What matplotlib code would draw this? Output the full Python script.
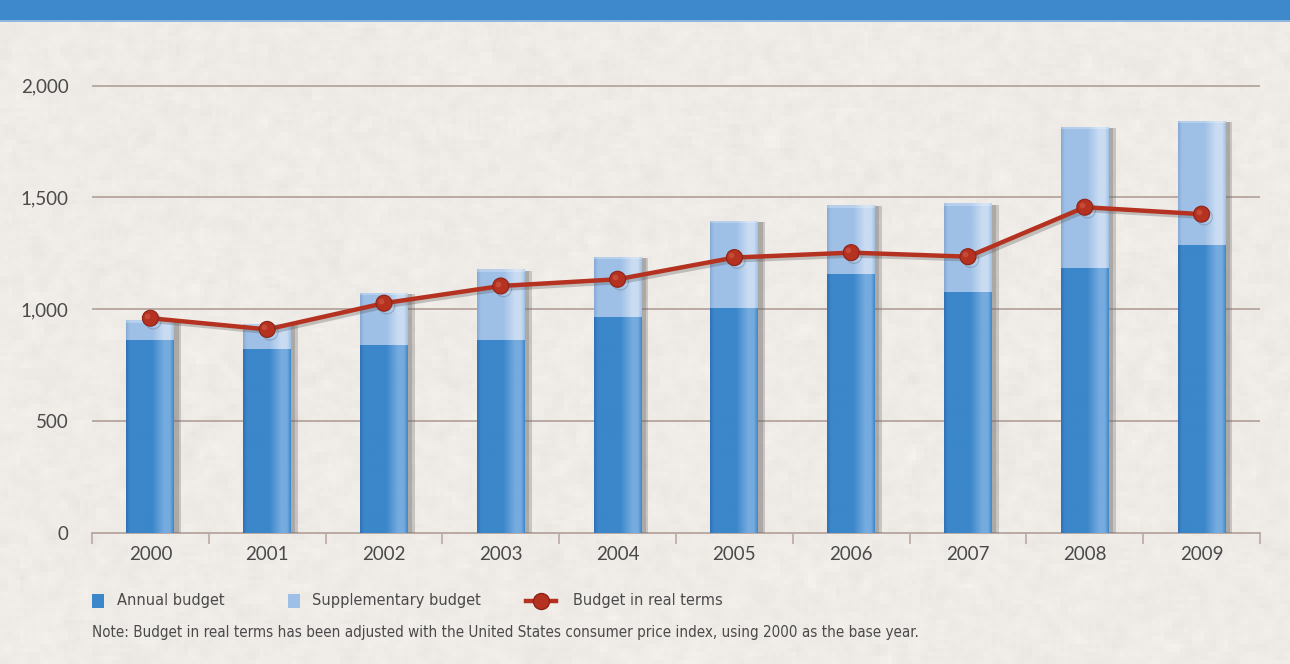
import numpy as np
import matplotlib
matplotlib.use("Agg")
import matplotlib.pyplot as plt
from matplotlib import patheffects as pe
from matplotlib.colors import LinearSegmentedColormap
from matplotlib.patches import Rectangle
from matplotlib.lines import Line2D

# ---- data -------------------------------------------------------------
years = ["2000", "2001", "2002", "2003", "2004",
         "2005", "2006", "2007", "2008", "2009"]
annual_budget = [863, 822, 839, 863, 967, 1004, 1158, 1079, 1183, 1287]
supplementary_budget = [89, 112, 235, 316, 268, 392, 308, 395, 633, 556]
real_terms = [960, 910, 1027, 1104, 1134, 1231, 1253, 1235, 1456, 1425]

y_ticks = [0, 500, 1000, 1500, 2000]
y_tick_labels = ["0", "500", "1,000", "1,500", "2,000"]

legend_labels = ["Annual budget", "Supplementary budget", "Budget in real terms"]
note_text = ("Note: Budget in real terms has been adjusted with the United States "
             "consumer price index, using 2000 as the base year.")

# ---- style ------------------------------------------------------------
W, H = 1290, 664
BG = "#efece8"
DARK_BLUE = "#3b87ca"
LIGHT_BLUE = "#9fc0e6"
RED = "#b53221"
GRID = "#b9aaa3"
TEXT = "#4a4a4a"
ROUND = ["Lato", "DejaVu Sans"]

fig = plt.figure(figsize=(W / 100, H / 100), dpi=100, facecolor=BG)

# soft paper grain behind everything
rng = np.random.default_rng(7)
grain = rng.normal(0, 1, (H // 4 + 2, W // 4 + 2))
k = np.ones(3) / 3
grain = np.apply_along_axis(lambda r: np.convolve(r, k, mode="same"), 1, grain)
grain = np.apply_along_axis(lambda c: np.convolve(c, k, mode="same"), 0, grain)
grain = np.kron(grain, np.ones((4, 4)))[:H, :W]
base = np.array([0xef, 0xec, 0xe8]) / 255
paper = np.clip(base[None, None, :] + 0.018 * grain[..., None], 0, 1)
fig.figimage(paper, xo=0, yo=0, zorder=-10)


def fx(px):
    return px / W


def fy(py):
    return 1 - py / H


# header band
fig.add_artist(Rectangle((0, fy(20)), 1, 20 / H, transform=fig.transFigure,
                         facecolor="#3e88cc", edgecolor="none", zorder=0))
fig.add_artist(Rectangle((0, fy(22)), 1, 2 / H, transform=fig.transFigure,
                         facecolor="#8fb6de", edgecolor="none", zorder=0))

# plotting area: y=0 at 533 px, 2000 at 85.5 px
ymax = 2100
px_per_unit = (533 - 85.5) / 2000
ax_h = ymax * px_per_unit
ax = fig.add_axes([fx(92), (H - 533) / H, fx(1260) - fx(92), ax_h / H])
ax.set_facecolor("none")

x = np.arange(len(years))
bw = 0.41


def bar_cmap(base_c, light, dark):
    return LinearSegmentedColormap.from_list(
        "shade", [(0.0, dark), (0.08, base_c), (0.55, base_c),
                  (0.80, light), (0.92, light), (1.0, base_c)])


annual_cmap = bar_cmap(DARK_BLUE, "#76abdf", "#2e70b3")
supp_cmap = bar_cmap(LIGHT_BLUE, "#c9dcf2", "#86a9d4")

shadow = [pe.SimplePatchShadow(offset=(5, -1), shadow_rgbFace="#6d6a6a", alpha=0.3),
          pe.SimplePatchShadow(offset=(3, -1), shadow_rgbFace="#6d6a6a", alpha=0.3),
          pe.Normal()]

bars_a = ax.bar(x, annual_budget, width=bw, color=DARK_BLUE, zorder=3,
                linewidth=0, path_effects=shadow)
bars_s = ax.bar(x, supplementary_budget, width=bw, bottom=annual_budget,
                color=LIGHT_BLUE, zorder=3, linewidth=0, path_effects=shadow)

grad = np.linspace(0, 1, 256).reshape(1, -1)
for patches, cmap in ((bars_a, annual_cmap), (bars_s, supp_cmap)):
    for p in patches:
        x0, y0 = p.get_x(), p.get_y()
        w, h = p.get_width(), p.get_height()
        im = ax.imshow(grad, cmap=cmap, extent=(x0, x0 + w, y0, y0 + h),
                       aspect="auto", interpolation="bilinear", zorder=3.5)
        im.set_clip_path(p)

# light cap at the top of each stacked bar
for p in bars_s:
    x0, w = p.get_x(), p.get_width()
    top = p.get_y() + p.get_height()
    ax.add_patch(Rectangle((x0, top - 12), w, 12, facecolor="white",
                           alpha=0.25, edgecolor="none", zorder=3.6))

# real-terms line
line_shadow = [pe.SimpleLineShadow(offset=(2, -2), shadow_color="#555", alpha=0.3),
               pe.Normal()]
ax.plot(x, real_terms, color=RED, linewidth=3.2, zorder=5,
        path_effects=line_shadow, solid_capstyle="round")
ax.plot(x, real_terms, linestyle="none", marker="o", markersize=11.5,
        markerfacecolor=RED, markeredgecolor="#8e2216", markeredgewidth=0.8,
        zorder=6, path_effects=line_shadow)
ax.plot(x - 0.025, np.array(real_terms) + 10, linestyle="none", marker="o",
        markersize=4, markerfacecolor="#cf5d48", markeredgecolor="none",
        alpha=0.6, zorder=7)

# axes and grid
ax.set_xlim(-0.5, len(years) - 0.5)
ax.set_ylim(0, ymax)
ax.set_yticks(y_ticks)
ax.set_yticklabels(y_tick_labels)
for yv in y_ticks[1:]:
    ax.axhline(yv, color=GRID, linewidth=1.4, zorder=1)
for s in ("top", "right", "left"):
    ax.spines[s].set_visible(False)
ax.spines["bottom"].set_color(GRID)
ax.spines["bottom"].set_linewidth(1.4)

ax.set_xticks(np.arange(len(years) + 1) - 0.5, minor=True)
ax.set_xticks(x)
ax.set_xticklabels(years)
ax.tick_params(axis="x", which="major", length=0, pad=9, labelsize=13.5,
               labelcolor=TEXT)
ax.tick_params(axis="x", which="minor", length=8, width=1.2, color=GRID,
               direction="out")
ax.tick_params(axis="y", length=0, pad=17, labelsize=13.5, labelcolor=TEXT)
for lab in ax.get_xticklabels() + ax.get_yticklabels():
    lab.set_family(ROUND)

# legend and note, set in a condensed face
cond = dict(family="DejaVu Sans", fontstretch="condensed", color=TEXT,
            va="center")
ly = 601
fig.add_artist(Rectangle((fx(92), fy(ly + 7)), 12 / W, 14 / H,
                         transform=fig.transFigure, facecolor=DARK_BLUE,
                         edgecolor="none"))
fig.text(fx(117), fy(ly), legend_labels[0], fontsize=11.7, **cond)
fig.add_artist(Rectangle((fx(288), fy(ly + 7)), 12 / W, 14 / H,
                         transform=fig.transFigure, facecolor=LIGHT_BLUE,
                         edgecolor="none"))
fig.text(fx(312), fy(ly), legend_labels[1], fontsize=11.7, **cond)
fig.add_artist(Line2D([fx(526), fx(556)], [fy(ly), fy(ly)],
                      transform=fig.transFigure, color=RED, linewidth=3.2))
fig.add_artist(Line2D([fx(541)], [fy(ly)], transform=fig.transFigure,
                      marker="o", markersize=11.5, markerfacecolor=RED,
                      markeredgecolor="#8e2216", linestyle="none"))
fig.text(fx(573), fy(ly), legend_labels[2], fontsize=11.7, **cond)

fig.text(fx(92), fy(633), note_text, fontsize=10.9, **cond)

fig.savefig("out.png", dpi=100, facecolor=BG)
